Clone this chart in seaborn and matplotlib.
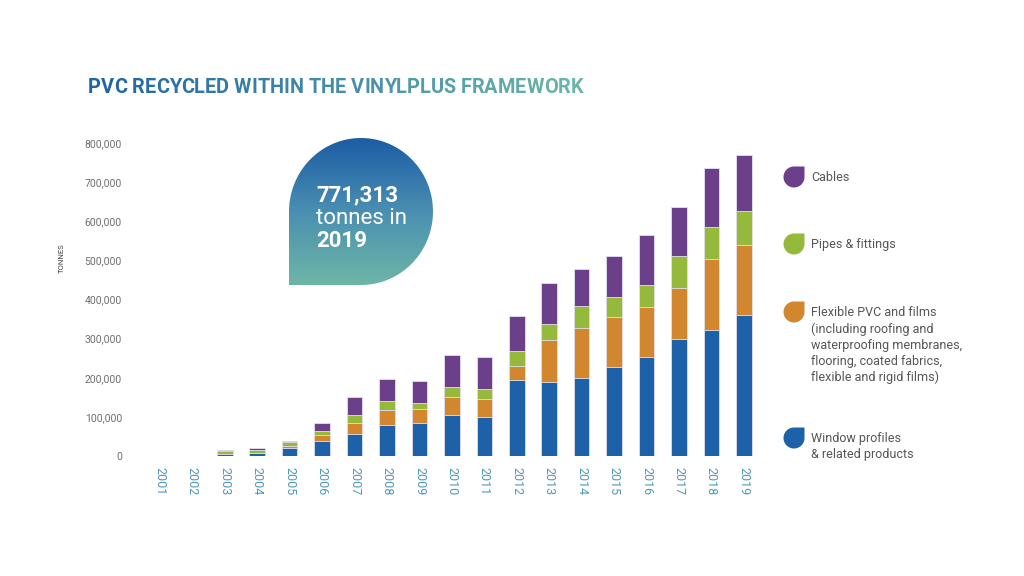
import numpy as np
import pandas as pd
import seaborn as sns
import matplotlib
matplotlib.use("Agg")
from matplotlib import pyplot as plt
from matplotlib.path import Path
from matplotlib.patches import PathPatch
from matplotlib.colors import LinearSegmentedColormap, to_rgb

# tonnes recycled per application
years = [str(y) for y in range(2001, 2020)]
window = [0, 0, 4300, 6800, 21300, 37500, 56200, 79200, 83500, 104800, 100500,
          194000, 188300, 200200, 228300, 252300, 299000, 322000, 359600]
flexible = [0, 0, 1000, 1700, 4300, 15300, 27300, 38300, 35800, 46800, 45200,
            36600, 108200, 127800, 127800, 128600, 130400, 180700, 180500]
pipes = [0, 0, 6800, 6800, 9400, 11900, 21300, 23000, 17000, 25600, 24800,
         38300, 41700, 56200, 49600, 57000, 81000, 81800, 86100]
cables = [0, 0, 2500, 4300, 4300, 18700, 45200, 55400, 54500, 81000, 83300,
          89500, 103200, 93800, 106300, 127800, 126800, 152300, 143100]
yticks = list(range(0, 800001, 100000))

legend_labels = ["Cables", "Pipes & fittings",
                 "Flexible PVC and films\n(including roofing and\nwaterproofing membranes,\nflooring, coated fabrics,\nflexible and rigid films)",
                 "Window profiles\n& related products"]

c_blue = "#1d62a8"
c_orange = "#d2862e"
c_green = "#94b93b"
c_purple = "#6c3f8b"

df = pd.DataFrame({"year": years, "window": window, "flexible": flexible,
                   "pipes": pipes, "cables": cables})
df["l1"] = df["window"]
df["l2"] = df["l1"] + df["flexible"]
df["l3"] = df["l2"] + df["pipes"]
df["l4"] = df["l3"] + df["cables"]

sns.set_theme(style="white")
plt.rcParams["font.family"] = ["Roboto", "DejaVu Sans"]

W, H = 1024, 576
fig = plt.figure(figsize=(W / 100, H / 100), dpi=100)
fig.patch.set_facecolor("white")

# main axes placed in pixel terms
ax_l, ax_r, ax_t, ax_b = 135, 760, 143, 456
ax = fig.add_axes([ax_l / W, 1 - ax_b / H, (ax_r - ax_l) / W, (ax_b - ax_t) / H])
ax.set_facecolor("none")

for col, colr in [("l4", c_purple), ("l3", c_green), ("l2", c_orange), ("l1", c_blue)]:
    sns.barplot(data=df, x="year", y=col, color=colr, width=0.48, saturation=1,
                edgecolor="#e4e0ee", linewidth=0.6, ax=ax)

ax.set_xlim(-0.77, 18.5)
ax.set_ylim(0, 800000)
ax.set_yticks(yticks)
ax.set_yticklabels([f"{v:,}" for v in yticks], fontsize=7.5, color="#6e6e6e")
ax.tick_params(axis="y", length=0, pad=9.4)
ax.tick_params(axis="x", length=0, pad=8, labelrotation=270)
for lab in ax.get_xticklabels():
    lab.set_fontsize(9)
    lab.set_color("#4f98bb")
ax.set_xlabel("")
ax.set_ylabel("")
sns.despine(ax=ax, left=True, bottom=True)

# overlay in pixel coordinates for decorations
ov = fig.add_axes([0, 0, 1, 1])
ov.set_facecolor("none")
ov.axis("off")


def drop_path(cx, cy, rx, ry, corner):
    # circle with one square corner (teardrop)
    if corner == "bl":
        t = np.linspace(np.pi, -np.pi / 2, 80)
        pts = [(cx - rx, cy + ry)] + [(cx + rx * np.cos(a), cy - ry * np.sin(a)) for a in t]
    else:
        t = np.linspace(np.pi / 2, 2 * np.pi, 80)
        pts = [(cx + rx, cy - ry)] + [(cx + rx * np.cos(a), cy - ry * np.sin(a)) for a in t]
    pts.append(pts[0])
    return Path(pts, closed=True)


# callout bubble with gradient
grad = LinearSegmentedColormap.from_list("g", ["#1c5ca4", "#4a8fb2", "#6db6a6"])
bub = PathPatch(drop_path(361, 211.5, 72, 73.5, "bl"), facecolor="none", edgecolor="none")
ov.add_patch(bub)
im = ov.imshow(np.linspace(0, 1, 256).reshape(-1, 1), cmap=grad, aspect="auto",
               extent=[289, 433, 285, 138], origin="upper", zorder=2)
im.set_clip_path(bub)
ov.text(316, 201, "771,313", color="white", fontsize=16, fontweight="bold", zorder=3)
ov.text(316, 223.5, "tonnes in", color="white", fontsize=16, zorder=3)
ov.text(316, 247, "2019", color="white", fontsize=16, fontweight="bold", zorder=3)

# legend with teardrop markers
leg_colors = [c_purple, c_green, c_orange, c_blue]
leg_y = [177, 244, 312, 438]
for lbl, colr, yy in zip(legend_labels, leg_colors, leg_y):
    ov.add_patch(PathPatch(drop_path(794, yy, 10.5, 10.5, "tr"), facecolor=colr,
                           edgecolor="none"))
    ov.text(811, yy - 6, lbl, fontsize=9, color="#555555", va="top",
            linespacing=1.3)

# y axis title
ov.text(62, 258, "TONNES", rotation=90, fontsize=5.5, color="#444444",
        ha="center", va="center")

# title with left-to-right colour gradient, char by char
title = "PVC RECYCLED WITHIN THE VINYLPLUS FRAMEWORK"
t_size = 14.3
renderer = fig.canvas.get_renderer()


def text_w(s):
    t = ov.text(0, 0, s, fontsize=t_size, fontweight="bold")
    w = t.get_window_extent(renderer).width
    t.remove()
    return w


bar_w = text_w("|")
total_w = text_w(title)
x0 = 88
c0, c1 = np.array(to_rgb("#1f63a8")), np.array(to_rgb("#6cb8a8"))
for k, ch in enumerate(title):
    if ch == " ":
        continue
    off = text_w(title[:k] + "|") - bar_w if k > 0 else 0
    f = off / total_w
    ov.text(x0 + off, 93, ch, fontsize=t_size, fontweight="bold",
            color=tuple(c0 + (c1 - c0) * f))

ov.set_xlim(0, W)
ov.set_ylim(H, 0)

fig.savefig("out.png", dpi=100, facecolor="white")
